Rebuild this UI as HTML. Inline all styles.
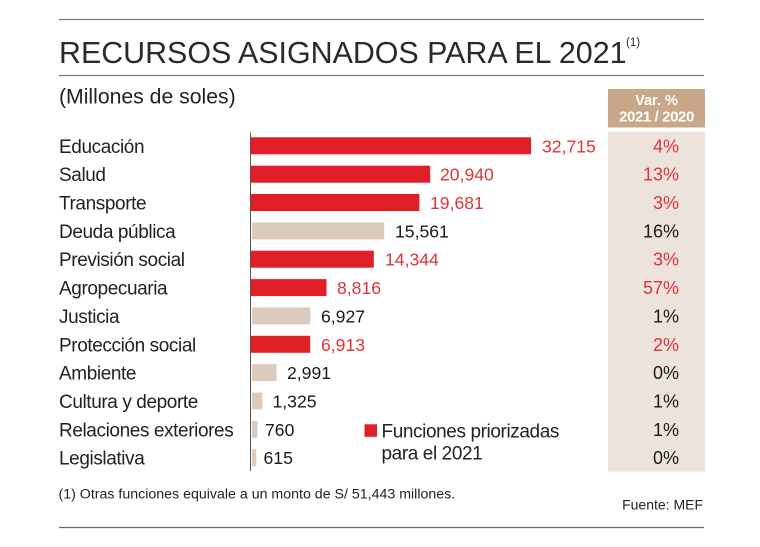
<!DOCTYPE html>
<html><head><meta charset="utf-8"><style>
html,body{margin:0;padding:0;background:#fff;}
svg{display:block;}
text{font-family:"Liberation Sans",Arial,sans-serif;}
</style></head><body>
<svg width="760" height="547" viewBox="0 0 760 547" xmlns="http://www.w3.org/2000/svg">
<rect width="760" height="547" fill="#fff"/>
<line x1="59" y1="19.5" x2="704" y2="19.5" stroke="#777" stroke-width="1.2"/>
<line x1="59" y1="75.5" x2="704" y2="75.5" stroke="#777" stroke-width="1.2"/>
<line x1="59" y1="527.5" x2="704" y2="527.5" stroke="#666" stroke-width="1.2"/>
<text x="59" y="63" font-size="30.4" fill="#2a2a2a">RECURSOS ASIGNADOS PARA EL 2021</text>
<text x="626" y="46" font-size="11.5" fill="#2a2a2a">(1)</text>
<text x="59" y="103.5" font-size="21.2" fill="#222">(Millones de soles)</text>
<rect x="608" y="89" width="97" height="38.5" fill="#c8a888"/>
<text x="656.5" y="105" font-size="14.5" font-weight="bold" fill="#fff" text-anchor="middle">Var. %</text>
<text x="656.5" y="121.7" font-size="15" font-weight="bold" fill="#fff" text-anchor="middle" letter-spacing="-0.4">2021 / 2020</text>
<rect x="608" y="131.7" width="97" height="340" fill="#ede3dd"/>
<line x1="250.5" y1="132.5" x2="250.5" y2="471" stroke="#555" stroke-width="1"/>
<g font-size="19" fill="#222" letter-spacing="-0.4">
<text x="59" y="152.8">Educación</text>
<text x="59" y="181.2">Salud</text>
<text x="59" y="209.5">Transporte</text>
<text x="59" y="237.9">Deuda pública</text>
<text x="59" y="266.2">Previsión social</text>
<text x="59" y="294.6">Agropecuaria</text>
<text x="59" y="322.9">Justicia</text>
<text x="59" y="351.3">Protección social</text>
<text x="59" y="379.6">Ambiente</text>
<text x="59" y="408.0">Cultura y deporte</text>
<text x="59" y="436.3">Relaciones exteriores</text>
<text x="59" y="464.7">Legislativa</text>
</g>
<g>
<rect x="251" y="137.3" width="280" height="17" fill="#e01f26"/>
<rect x="251" y="165.7" width="179.2" height="17" fill="#e01f26"/>
<rect x="251" y="194.0" width="168.4" height="17" fill="#e01f26"/>
<rect x="252" y="222.4" width="132.2" height="17" fill="#dccbbd"/>
<rect x="251" y="250.7" width="122.8" height="17" fill="#e01f26"/>
<rect x="251" y="279.1" width="75.5" height="17" fill="#e01f26"/>
<rect x="252" y="307.4" width="58.3" height="17" fill="#dccbbd"/>
<rect x="251" y="335.8" width="59.2" height="17" fill="#e01f26"/>
<rect x="252" y="364.1" width="24.6" height="17" fill="#dccbbd"/>
<rect x="252" y="392.5" width="10.3" height="17" fill="#dccbbd"/>
<rect x="252" y="420.8" width="5.5" height="17" fill="#dccbbd"/>
<rect x="252" y="449.2" width="4.3" height="17" fill="#dccbbd"/>
</g>
<g font-size="17.6">
<text x="542" y="152.3" fill="#e2323a">32,715</text>
<text x="440" y="180.7" fill="#e2323a">20,940</text>
<text x="430" y="209.0" fill="#e2323a">19,681</text>
<text x="395" y="237.4" fill="#1a1a1a">15,561</text>
<text x="385" y="265.7" fill="#e2323a">14,344</text>
<text x="337" y="294.1" fill="#e2323a">8,816</text>
<text x="321" y="322.4" fill="#1a1a1a">6,927</text>
<text x="321" y="350.8" fill="#e2323a">6,913</text>
<text x="287" y="379.1" fill="#1a1a1a">2,991</text>
<text x="272.5" y="407.5" fill="#1a1a1a">1,325</text>
<text x="265" y="435.8" fill="#1a1a1a">760</text>
<text x="263.5" y="464.2" fill="#1a1a1a">615</text>
</g>
<g font-size="18" text-anchor="end">
<text x="679" y="152.3" fill="#e2323a">4%</text>
<text x="679" y="180.7" fill="#e2323a">13%</text>
<text x="679" y="209.0" fill="#e2323a">3%</text>
<text x="679" y="237.4" fill="#1a1a1a">16%</text>
<text x="679" y="265.7" fill="#e2323a">3%</text>
<text x="679" y="294.1" fill="#e2323a">57%</text>
<text x="679" y="322.4" fill="#1a1a1a">1%</text>
<text x="679" y="350.8" fill="#e2323a">2%</text>
<text x="679" y="379.1" fill="#1a1a1a">0%</text>
<text x="679" y="407.5" fill="#1a1a1a">1%</text>
<text x="679" y="435.8" fill="#1a1a1a">1%</text>
<text x="679" y="464.2" fill="#1a1a1a">0%</text>
</g>
<rect x="364.5" y="424.3" width="12.5" height="12.5" fill="#e01f26"/>
<text x="381.5" y="437.3" font-size="19" fill="#222" letter-spacing="-0.4">Funciones priorizadas</text>
<text x="381.5" y="459.3" font-size="19" fill="#222" letter-spacing="-0.4">para el 2021</text>
<text x="58.5" y="498.5" font-size="14.2" fill="#222">(1) Otras funciones equivale a un monto de S/ 51,443 millones.</text>
<text x="703" y="509.3" font-size="14" fill="#222" text-anchor="end">Fuente: MEF</text>
</svg>
</body></html>
